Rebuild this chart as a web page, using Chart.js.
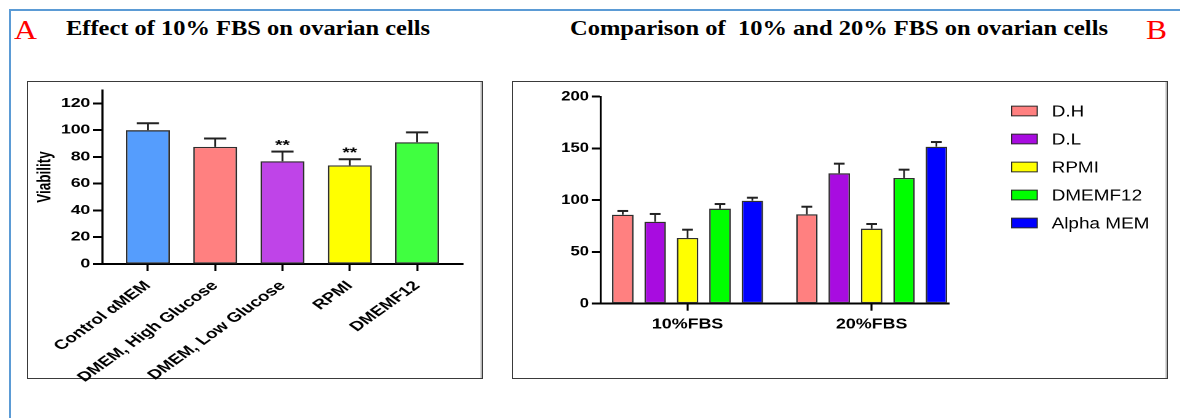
<!DOCTYPE html>
<html>
<head>
<meta charset="utf-8">
<script src="https://cdn.jsdelivr.net/npm/chart.js@4.4.1/dist/chart.umd.min.js"></script>
<style>
  html, body { margin: 0; padding: 0; background: #fff; }
  body { width: 1180px; height: 418px; position: relative; overflow: hidden; }
  .frame { position: absolute; left: 9px; top: 9px; width: 1200px; height: 420px;
           border-top: 2px solid #5b9bd5; border-left: 2px solid #5b9bd5; }
  .panel { position: absolute; box-sizing: border-box; border: 1.5px solid #3a3a3a;
           box-shadow: inset -1.5px 0 0 #b8b8b8; }
  .serif { position: absolute; font-family: "Liberation Serif", "Times New Roman", serif;
           line-height: normal; white-space: pre; transform-origin: 0 0; }
  .letter { font-size: 28px; color: #ff0000; }
  .title { font-size: 20px; font-weight: bold; color: #000; }
  .plot { position: absolute; transform-origin: 0 0; }
  .plot canvas { display: block; }
</style>
</head>
<body>
<div class="frame"></div>
<div class="panel" style="left:27px;top:81px;width:456px;height:298px;"></div>
<div class="panel" style="left:512px;top:81px;width:656px;height:298px;"></div>

<div class="serif letter" id="letterA">A</div>
<div class="serif title" id="titleA">Effect of 10% FBS on ovarian cells</div>
<div class="serif title" id="titleB">Comparison of  10% and 20% FBS on ovarian cells</div>
<div class="serif letter" id="letterB">B</div>

<div class="plot" id="plotA"><canvas id="chartA" width="324" height="320"></canvas></div>
<div class="plot" id="plotB"><canvas id="chartB" width="531" height="320"></canvas></div>

<script>
// ---- Panel A: effect of 10% FBS, viability per medium ----
const groupsA   = ['Control αMEM', 'DMEM, High Glucose', 'DMEM, Low Glucose', 'RPMI', 'DMEMF12'];
const viabilityA = [100.0, 87.5, 76.8, 73.7, 91.0];
const semA       = [5.2, 6.3, 7.2, 4.6, 7.3];
const signifA    = ['', '', '**', '**', ''];
const yTicksA    = [0, 20, 40, 60, 80, 100, 120];

// ---- Panel B: 10% vs 20% FBS per medium ----
const fbsLevels  = ['10%FBS', '20%FBS'];
const mediaB     = ['D.H', 'D.L', 'RPMI', 'DMEMF12', 'Alpha MEM'];
const dhB        = [86.0, 86.4];
const dhErrB     = [3.6, 7.3];
const dlB        = [79.2, 126.0];
const dlErrB     = [7.5, 9.3];
const rpmiB      = [63.5, 72.5];
const rpmiErrB   = [8.0, 4.5];
const dmemf12B   = [91.8, 121.5];
const dmemf12ErrB = [4.5, 8.0];
const alphaB     = [99.5, 151.7];
const alphaErrB  = [2.9, 4.5];
const yTicksB    = [0, 50, 100, 150, 200];

// palettes
const coloursA = ['#559dfd', '#ff8080', '#bf44e8', '#ffff00', '#40ff40'];
const coloursB = ['#ff8080', '#a80ce0', '#ffff00', '#00ff00', '#0000ff'];

const SANS = '"Liberation Sans", Arial, Helvetica, sans-serif';
Chart.defaults.color = '#000';
Chart.defaults.font.family = SANS;

// Upper error bars (mean + SEM) drawn on top of every bar
const errorBarPlugin = {
  id: 'errorBars',
  afterDatasetsDraw(chart, args, o) {
    const ctx = chart.ctx, yScale = chart.scales.y;
    chart.data.datasets.forEach((ds, di) => {
      if (!ds.errors) return;
      const meta = chart.getDatasetMeta(di);
      meta.data.forEach((bar, i) => {
        const err = ds.errors[i];
        if (err == null) return;
        const v = meta.controller.getParsed(i).y;
        const top = yScale.getPixelForValue(v + err);
        const half = bar.width * o.capRatio / 2;
        ctx.save();
        ctx.strokeStyle = o.color;
        ctx.lineWidth = o.stemWidth;
        ctx.beginPath();
        ctx.moveTo(bar.x, bar.y);
        ctx.lineTo(bar.x, top);
        ctx.stroke();
        ctx.lineWidth = o.capWidth;
        ctx.beginPath();
        ctx.moveTo(bar.x - half, top);
        ctx.lineTo(bar.x + half, top);
        ctx.stroke();
        ctx.restore();
      });
    });
  }
};

// Significance marks above the error bars
const signifPlugin = {
  id: 'signif',
  afterDatasetsDraw(chart, args, o) {
    if (!o.marks) return;
    const ctx = chart.ctx, yScale = chart.scales.y;
    const ds = chart.data.datasets[0];
    const meta = chart.getDatasetMeta(0);
    meta.data.forEach((bar, i) => {
      const mark = o.marks[i];
      if (!mark) return;
      const v = meta.controller.getParsed(i).y + (ds.errors ? ds.errors[i] : 0);
      ctx.save();
      ctx.fillStyle = '#000';
      ctx.font = o.font;
      ctx.textAlign = 'center';
      ctx.textBaseline = 'alphabetic';
      ctx.fillText(mark, bar.x, yScale.getPixelForValue(v) - o.lift);
      ctx.restore();
    });
  }
};

// Legend column to the right of the plot area
const sideLegendPlugin = {
  id: 'sideLegend',
  afterDraw(chart, args, o) {
    if (!o.show) return;
    const ctx = chart.ctx, area = chart.chartArea;
    chart.data.datasets.forEach((ds, j) => {
      const cy = area.top + o.offsetY + j * o.rowGap;
      const x = area.right + o.offsetX;
      ctx.save();
      ctx.fillStyle = ds.backgroundColor;
      ctx.fillRect(x, cy - o.boxHeight / 2, o.boxWidth, o.boxHeight);
      ctx.strokeStyle = '#2a2a2a';
      ctx.lineWidth = 1;
      ctx.strokeRect(x, cy - o.boxHeight / 2, o.boxWidth, o.boxHeight);
      ctx.fillStyle = '#000';
      ctx.font = o.font;
      ctx.textAlign = 'left';
      ctx.textBaseline = 'middle';
      ctx.fillText(ds.label, x + o.boxWidth + o.gap, cy + 1);
      ctx.restore();
    });
  }
};

function fixedTicks(list) {
  return scale => { scale.ticks = list.map(v => ({ value: v })); };
}

// ---------- Chart A ----------
const chartA = new Chart(document.getElementById('chartA'), {
  type: 'bar',
  data: {
    datasets: [{
      data: viabilityA.map((v, i) => ({ x: i, y: v })),
      errors: semA,
      backgroundColor: coloursA,
      borderColor: '#2e2e2e',
      borderWidth: 1.3,
      borderSkipped: false,
      categoryPercentage: 1,
      barPercentage: 0.655
    }]
  },
  options: {
    responsive: false,
    devicePixelRatio: 2,
    animation: false,
    layout: { padding: { left: 0, right: 13, top: 28, bottom: 0 } },
    plugins: {
      legend: { display: false },
      tooltip: { enabled: false },
      errorBars: { color: '#222', stemWidth: 1.4, capWidth: 2, capRatio: 0.5 },
      signif: { marks: signifA, font: 'bold 13.5px ' + SANS, lift: 2 },
      sideLegend: { show: false }
    },
    scales: {
      x: {
        type: 'linear', min: -0.68, max: 4.68, offset: false,
        afterBuildTicks: fixedTicks(groupsA.map((_, i) => i)),
        afterFit: s => { s.height = 118; },
        ticks: {
          autoSkip: false, minRotation: 45, maxRotation: 45, padding: 7,
          color: '#000', font: { size: 13.5, weight: 'bold' },
          callback: v => groupsA[v] ?? ''
        },
        grid: { offset: false, drawOnChartArea: false, tickLength: 7, tickWidth: 1.5, tickColor: '#000' },
        border: { display: true, color: '#000', width: 2 }
      },
      y: {
        min: 0, max: 130,
        afterBuildTicks: fixedTicks(yTicksA),
        afterFit: s => { s.width = 53; },
        ticks: { padding: 2, color: '#000', font: { size: 12.5, weight: 'bold' } },
        grid: { drawOnChartArea: false, tickLength: 6.5, tickWidth: 2, tickColor: '#000' },
        border: { display: true, color: '#000', width: 1.5 },
        title: { display: true, text: 'Viability', color: '#000',
                 font: { size: 13.5, weight: 'bold' }, padding: { top: 4, bottom: 0 } }
      }
    }
  },
  plugins: [errorBarPlugin, signifPlugin, sideLegendPlugin]
});

// ---------- Chart B ----------
const seriesB = [
  { label: mediaB[0], values: dhB,      errors: dhErrB },
  { label: mediaB[1], values: dlB,      errors: dlErrB },
  { label: mediaB[2], values: rpmiB,    errors: rpmiErrB },
  { label: mediaB[3], values: dmemf12B, errors: dmemf12ErrB },
  { label: mediaB[4], values: alphaB,   errors: alphaErrB }
];

const chartB = new Chart(document.getElementById('chartB'), {
  type: 'bar',
  data: {
    datasets: seriesB.map((s, j) => ({
      label: s.label,
      data: s.values.map((v, i) => ({ x: i, y: v })),
      errors: s.errors,
      backgroundColor: coloursB[j],
      borderColor: '#2e2e2e',
      borderWidth: 1.3,
      borderSkipped: false,
      categoryPercentage: 0.88,
      barPercentage: 0.664
    }))
  },
  options: {
    responsive: false,
    devicePixelRatio: 2,
    animation: false,
    layout: { padding: { left: 0, right: 176.5, top: 34.7, bottom: 0 } },
    plugins: {
      legend: { display: false },
      tooltip: { enabled: false },
      errorBars: { color: '#222', stemWidth: 1.4, capWidth: 2, capRatio: 0.5 },
      signif: {},
      sideLegend: { show: true, offsetX: 51, offsetY: 14.3, rowGap: 28, boxWidth: 20.8,
                    boxHeight: 9.7, gap: 11.7, font: '15.4px ' + SANS }
    },
    scales: {
      x: {
        type: 'linear', min: -0.472, max: 1.42, offset: false,
        afterBuildTicks: fixedTicks(fbsLevels.map((_, i) => i)),
        afterFit: s => { s.height = 78.3; },
        ticks: {
          autoSkip: false, minRotation: 0, maxRotation: 0, padding: 5,
          color: '#000', font: { size: 14.5, weight: 'bold' },
          callback: v => fbsLevels[v] ?? ''
        },
        grid: { offset: false, drawOnChartArea: false, tickLength: 7, tickWidth: 1.6, tickColor: '#000' },
        border: { display: true, color: '#000', width: 2 }
      },
      y: {
        min: 0, max: 200,
        afterBuildTicks: fixedTicks(yTicksB),
        afterFit: s => { s.width = 71.3; },
        ticks: { padding: 2.2, color: '#000', font: { size: 13.5, weight: 'bold' } },
        grid: { drawOnChartArea: false, tickLength: 7.3, tickWidth: 2, tickColor: '#000' },
        border: { display: true, color: '#000', width: 1.6 }
      }
    }
  },
  plugins: [errorBarPlugin, signifPlugin, sideLegendPlugin]
});

// ---------- page layout: stretched plot boxes and headings ----------
function placePlot(id, left, top, shownWidth, canvasWidth) {
  const el = document.getElementById(id);
  el.style.left = left + 'px';
  el.style.top = top + 'px';
  el.style.transform = `scaleX(${shownWidth / canvasWidth})`;
}
placePlot('plotA', 28, 62, 453, 324);
placePlot('plotB', 513, 62, 653, 531);

const SERIF_ASCENT = 0.891;
function placeText(id, left, baseline, width) {
  const el = document.getElementById(id);
  el.style.transform = 'none';
  const size = parseFloat(getComputedStyle(el).fontSize);
  const natural = el.getBoundingClientRect().width;
  el.style.left = left + 'px';
  el.style.top = (baseline - SERIF_ASCENT * size) + 'px';
  el.style.transform = `scaleX(${width / natural})`;
}
function placeHeadings() {
  placeText('letterA', 14, 39.3, 23);
  placeText('titleA', 66, 35, 364);
  placeText('titleB', 570, 35, 538);
  placeText('letterB', 1145.7, 39.3, 21);
}
placeHeadings();
if (document.fonts && document.fonts.ready) document.fonts.ready.then(placeHeadings);
</script>
</body>
</html>
